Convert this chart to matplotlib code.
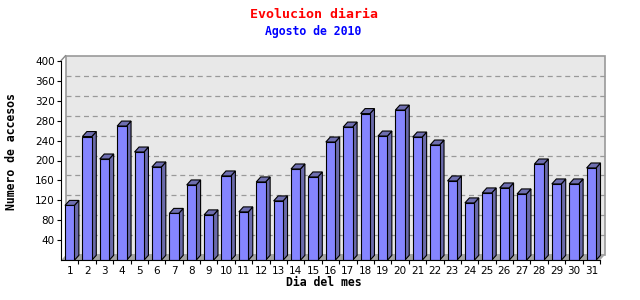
import numpy as np
import matplotlib
matplotlib.use("Agg")
import matplotlib.pyplot as plt
from matplotlib.patches import Polygon, Rectangle

# daily accesses, August 2010
days = list(range(1, 32))
accesos = [110, 248, 203, 269, 217, 187, 94, 151, 91, 169, 97, 157, 119, 183, 167, 237,
           267, 294, 249, 301, 247, 231, 159, 115, 135, 145, 133, 193, 153, 153, 185]
yticks = [40, 80, 120, 160, 200, 240, 280, 320, 360, 400]

W, H = 640, 300
fig = plt.figure(figsize=(6.4, 3.0), dpi=100)
fig.patch.set_facecolor("white")

# plot area in pixels (front plane)
left_px, right_px, top_px, bottom_px = 61, 600, 60.7, 260.3
ax = fig.add_axes([left_px / W, 1 - bottom_px / H,
                   (right_px - left_px) / W, (bottom_px - top_px) / H])
ax.set_xlim(0.5, 31.5)
ax.set_ylim(0, 400)
ax.set_facecolor("none")

# 3D depth in data units
depth_x_px, depth_y_px = 4.5, 5.0
dx = depth_x_px * (31.0 / (right_px - left_px))
dy = depth_y_px * (400.0 / (bottom_px - top_px))

# back wall
ax.add_patch(Rectangle((0.5 + dx, dy), 31, 400, facecolor="#e8e8e8",
                       edgecolor="#999999", lw=1.2, zorder=0, clip_on=False))
# floor
ax.add_patch(Polygon([(0.5, 0), (31.5, 0), (31.5 + dx, dy), (0.5 + dx, dy)],
                     closed=True, facecolor="#a4a4a4", edgecolor="none",
                     zorder=1, clip_on=False))
# grid on back wall
for v in yticks[:-1]:
    ax.plot([0.5 + dx, 31.5 + dx], [v + dy, v + dy], color="#999999",
            lw=0.9, ls=(0, (4, 3)), zorder=1, clip_on=False)
# left top corner diagonal
ax.plot([0.5, 0.5 + dx], [400, 400 + dy], color="#888888", lw=1, zorder=1, clip_on=False)

# bars
w = 0.54
front_col, side_col, top_col = "#8585ff", "#6a6aaa", "#6e6eb0"
for c, h in zip(days, accesos):
    x0, x1 = c - w / 2, c + w / 2
    ax.add_patch(Polygon([(x1, 0), (x1 + dx, dy), (x1 + dx, h + dy), (x1, h)],
                         closed=True, facecolor=side_col, edgecolor="black",
                         lw=0.8, zorder=3, clip_on=False))
    ax.add_patch(Polygon([(x0, h), (x1, h), (x1 + dx, h + dy), (x0 + dx, h + dy)],
                         closed=True, facecolor=top_col, edgecolor="black",
                         lw=0.8, zorder=3, clip_on=False))
ax.bar(days, accesos, width=w, color=front_col, edgecolor="black", lw=0.8, zorder=4)

# axes styling
for s in ["top", "right"]:
    ax.spines[s].set_visible(False)
ax.spines["left"].set_color("black")
ax.spines["bottom"].set_color("black")
ax.spines["left"].set_zorder(5)
ax.spines["bottom"].set_zorder(5)

ax.set_yticks(yticks)
ax.set_yticklabels([str(v) for v in yticks])
ax.set_xticks(days)
ax.set_xticklabels([str(d) for d in days])
ax.set_xticks([d + 0.5 for d in days], minor=True)
ax.tick_params(axis="y", direction="out", length=3, width=0.8, pad=1.5, labelsize=7.5)
ax.tick_params(axis="x", which="major", length=0, pad=4, labelsize=7.5)
ax.tick_params(axis="x", which="minor", direction="out", length=3, width=0.8)

# titles and labels
fig.text(0.49, 1 - 14 / H, "Evolucion diaria", color="red", ha="center", va="center",
         family="DejaVu Sans Mono", fontweight="bold", fontsize=9.5)
fig.text(0.49, 1 - 32 / H, "Agosto de 2010", color="blue", ha="center", va="center",
         family="DejaVu Sans Mono", fontweight="bold", fontsize=8.3)
fig.text(12 / W, 1 - 152 / H, "Numero de accesos", rotation=90, ha="center", va="center",
         family="DejaVu Sans Mono", fontweight="bold", fontsize=8.3)
fig.text(324 / W, 1 - 282 / H, "Dia del mes", ha="center", va="center",
         family="DejaVu Sans Mono", fontweight="bold", fontsize=8.3)

fig.savefig("out.png", dpi=100)
